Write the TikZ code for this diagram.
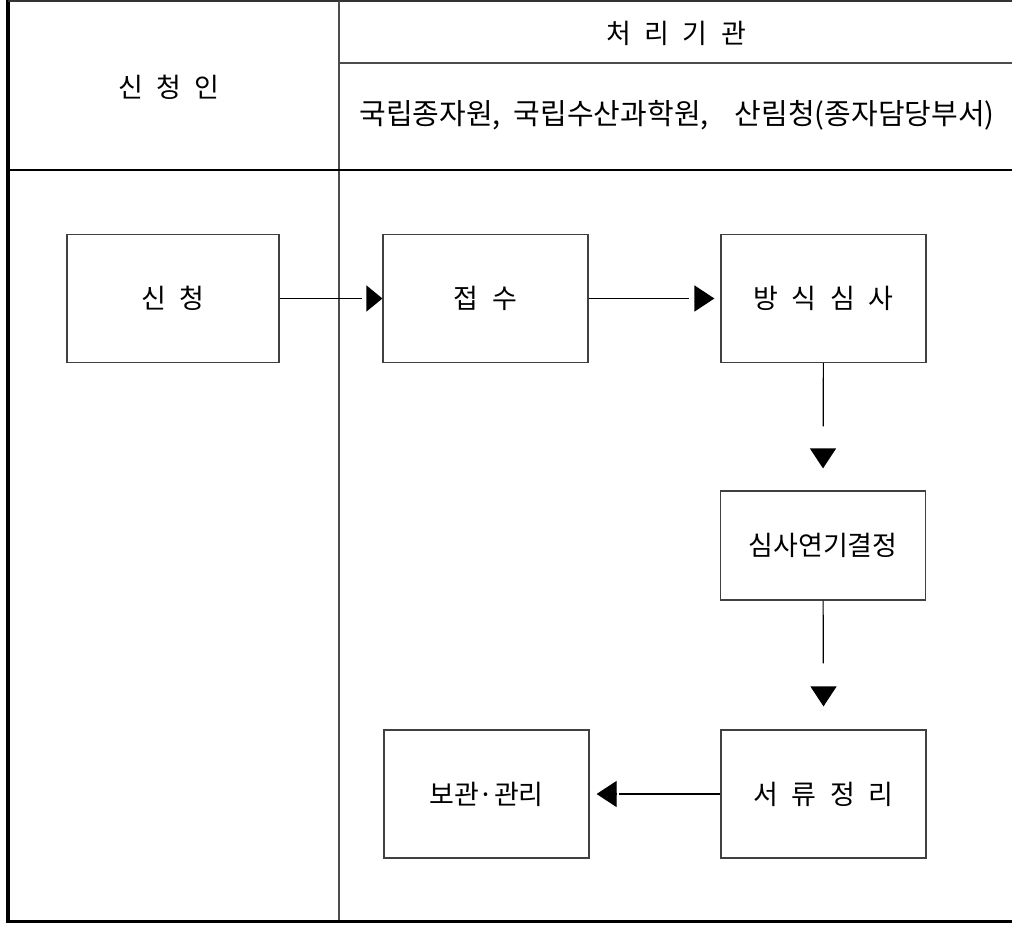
\documentclass[tikz,border=0pt]{standalone}
\usepackage{fontspec}
\setmainfont{Noto Sans CJK KR}
\usetikzlibrary{arrows.meta}
\newcommand\wideskip{\spaceskip=.5em\relax}
\newcommand\halfskip{\spaceskip=.45em\relax}

\begin{document}
\begin{tikzpicture}[x=1pt,y=-1pt,
    lbl/.style={font=\fontsize{27}{31}\selectfont\wideskip},
    rule/.style={draw=black!70,line width=1.3pt},
    tip/.style={-{Triangle[length=#1,width=26pt]}},
    tip/.default=20pt]
      \useasboundingbox (0,0) rectangle (1012,925);
      % frame and table rules
      \draw[line width=3.5pt] (8,0) -- (8,921.5) -- (1012,921.5);
      \draw[line width=1.6pt,black!80] (8,1) -- (1012,1);
      \draw[rule] (339,1) -- (339,920);
      \draw[rule] (339,63) -- (1012,63);
      \draw[line width=1.5pt] (8,170) -- (1012,170);
      % header texts
      \node[lbl] (applicant) at (169,87) {신 청 인};
      \node[lbl] (office) at (676,33) {처 리 기 관};
      \node[font=\fontsize{29}{33}\selectfont\halfskip] (agencies) at (677,115)
        {국립종자원, 국립수산과학원,\ \ 산림청(종자담당부서)};
      \begin{scope}[every node/.style={lbl,draw=black!75,line width=1.2pt,
          minimum width=205pt,minimum height=128pt,inner sep=0pt}]
        \node[minimum width=212pt] (apply) at (173,298.5) {신 청};
        \node (receipt) at (485.5,298.5) {접 수};
        \node (review) at (823.5,298.5) {방 식 심 사};
        \node[minimum height=109pt] (defer) at (823,545.5) {심사연기결정};
        \node (arrange) at (823.5,794) {서 류 정 리};
        \node (keep) at (486.5,794) {보관·관리};
      \end{scope}
      \begin{scope}[every edge/.style={draw,line width=1.2pt}]
        % lines, stopped short of the heads
        \path (apply) edge[shorten >=20pt] (receipt);
        \path (receipt) edge[shorten >=31pt] (review);
        \path (review) edge[shorten >=64pt] (defer);
        \path (defer) edge[shorten >=66pt] (arrange);
        \path (arrange) edge[shorten >=29pt] (keep);
        % heads
        \path ([xshift=-15.5pt]receipt.west) edge[tip=16pt] (receipt);
        \path ([xshift=-25.5pt]review.west) edge[tip,shorten >=6pt] (review);
        \path ([yshift=41.5pt]defer.north) edge[tip,shorten >=22pt] (defer);
        \path ([yshift=42.5pt]arrange.north) edge[tip,shorten >=23pt] (arrange);
        \path ([xshift=26.5pt]keep.east) edge[tip,shorten >=7pt] (keep);
      \end{scope}
    \end{tikzpicture}
\end{document}
